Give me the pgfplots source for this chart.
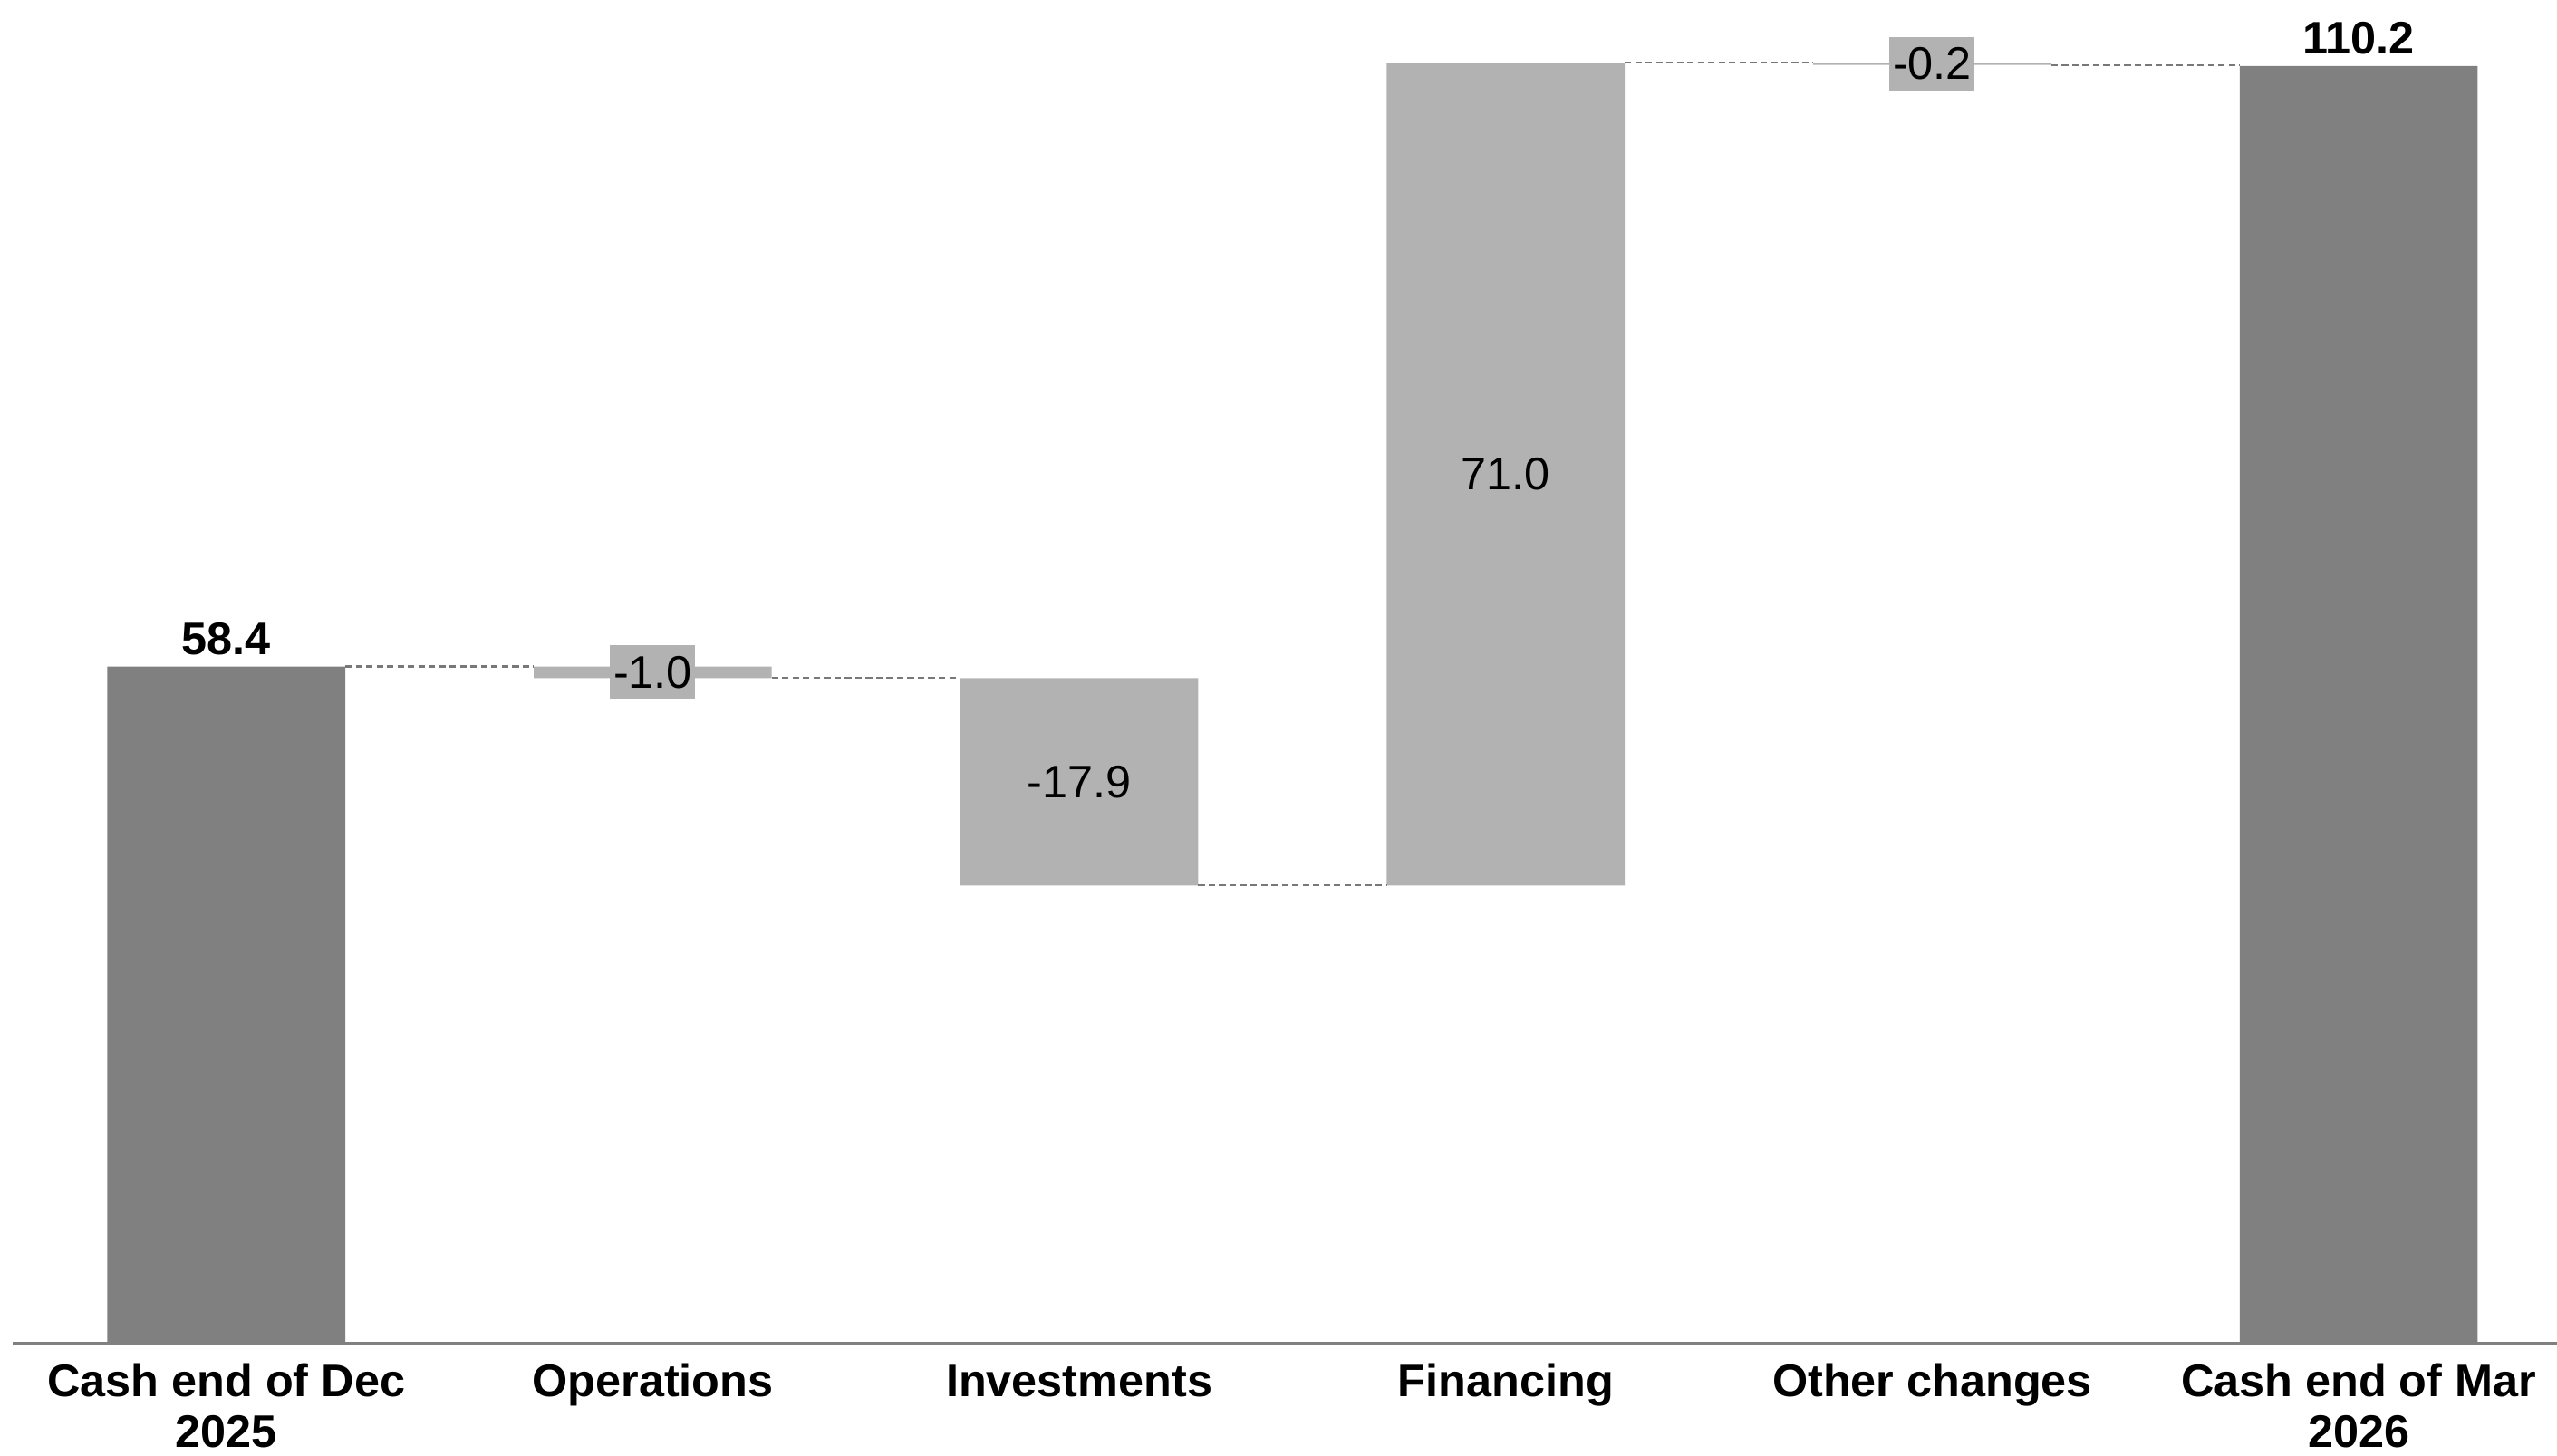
\documentclass[border=0pt]{standalone}
\usepackage{pgfplots}
\pgfplotsset{compat=1.18}
\usepackage{fontspec}
\setmainfont{Liberation Sans}
\definecolor{darkbar}{RGB}{128,128,128}
\definecolor{lightbar}{RGB}{178,178,178}
\definecolor{conn}{RGB}{120,120,120}
\pgfplotsset{wfbase/.style={scale only axis, width=780.2pt, height=412pt,
  xmin=-0.5, xmax=5.465, ymin=0, ymax=115.9, clip=false}}
\begin{document}
\begin{tikzpicture}
\begin{axis}[wfbase, name=ax, ybar stacked, bar width=0.558,
  axis x line*=bottom, axis y line=none, ytick=\empty,
  x axis line style={draw=darkbar, line width=1pt, -},
  xtick={0,...,5},
  xticklabels={{Cash end of Dec\\2025},Operations,Investments,Financing,{Other changes},{Cash end of Mar\\2026}},
  typeset ticklabels with strut,
  xticklabel style={font=\bfseries\fontsize{14}{15.5}\selectfont, align=center, yshift=-2pt},
  major tick length=0pt]
\addplot[draw=none, fill=none] coordinates {(0,0) (1,57.4) (2,39.5) (3,39.5) (4,110.3) (5,0)};
\addplot[draw=none, fill=darkbar] coordinates {(0,58.4) (1,0) (2,0) (3,0) (4,0) (5,110.2)};
\addplot[draw=none, fill=lightbar] coordinates {(0,0) (1,1.0) (2,17.9) (3,71.0) (4,0.2) (5,0)};
\end{axis}
\begin{axis}[wfbase, hide axis]
\addplot[conn, line width=0.6pt, dash pattern=on 2pt off 1.2pt] coordinates {(0.279,58.4) (0.721,58.4)};
\addplot[conn, line width=0.6pt, dash pattern=on 2pt off 1.2pt] coordinates {(1.279,57.4) (1.721,57.4)};
\addplot[conn, line width=0.6pt, dash pattern=on 2pt off 1.2pt] coordinates {(2.279,39.5) (2.721,39.5)};
\addplot[conn, line width=0.6pt, dash pattern=on 2pt off 1.2pt] coordinates {(3.279,110.5) (3.721,110.5)};
\addplot[conn, line width=0.6pt, dash pattern=on 2pt off 1.2pt] coordinates {(4.279,110.25) (4.721,110.25)};
\addplot[only marks, mark=none, nodes near coords, point meta=explicit symbolic,
  nodes near coords style={anchor=south, font=\bfseries\fontsize{14}{17}\selectfont}]
  coordinates {(0,58.4) [58.4] (5,110.2) [110.2]};
\addplot[only marks, mark=none, nodes near coords, point meta=explicit symbolic,
  nodes near coords style={anchor=center, fill=lightbar, inner xsep=1pt, inner ysep=3.3pt, font=\fontsize{14}{17}\selectfont}]
  coordinates {(1,57.9) [-1.0] (2,48.45) [-17.9] (3,75.0) [71.0] (4,110.4) [-0.2]};
\end{axis}
\pgfresetboundingbox
\path ([xshift=-4pt,yshift=-34.5pt]ax.south west) rectangle (ax.north east);
\end{tikzpicture}
\end{document}
